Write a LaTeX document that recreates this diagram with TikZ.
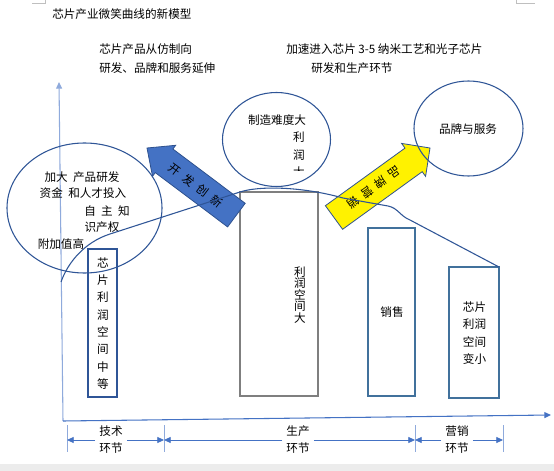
\documentclass[tikz,border=0pt]{standalone}
\usepackage{fontspec}
\setmainfont{Noto Sans CJK SC}
\usetikzlibrary{arrows.meta,shapes.geometric}

\definecolor{curveblue}{HTML}{2F5597}
\definecolor{axisblue}{HTML}{4472C4}
\definecolor{tickblue}{HTML}{8FAADC}
\definecolor{arrowedge}{HTML}{2F528F}
\definecolor{boxgrey}{HTML}{7F7F7F}
\definecolor{boxblue}{HTML}{41719C}
\newcommand{\chargap}{\hspace{4.5pt}}

\begin{document}
\begin{tikzpicture}[x=0.75pt, y=-0.75pt, >={Triangle[length=5pt,width=4.5pt]},
    every node/.style={font=\fontsize{8.7}{10.5}\selectfont, inner sep=0pt},
    oval/.style={ellipse, draw=curveblue, line width=0.8pt},
    bar/.style={rectangle, draw, line width=0.8pt},
    bigarrow/.style={draw=arrowedge, line width=0.6pt},
    linktext/.style={align=center, font=\fontsize{8.7}{12.75}\selectfont, inner sep=3pt},
    dim/.style={->, axisblue, line width=0.6pt}]
    \useasboundingbox (0,0) rectangle (554,471);
    \fill[white] (0,0) rectangle (554,471);
    \fill[gray!15] (0,464) rectangle (554,471);
    \draw[gray!50, line width=0.5pt] (32,3) -- (45,3) -- (45,0);
    \draw[gray!50, line width=0.5pt] (516,0) -- (516,3) -- (535,3);

    \node[anchor=west] (title) at (52,14) {芯片产业微笑曲线的新模型};
    \node[anchor=west] (shift1) at (99,49) {芯片产品从仿制向};
    \node[anchor=west] (shift2) at (99,68) {研发、品牌和服务延伸};
    \node[anchor=west] (speed1) at (286,49) {加速进入芯片 3-5 纳米工艺和光子芯片};
    \node[anchor=west] (speed2) at (311,68) {研发和生产环节};

    % axes
    \coordinate (origin) at (63,421);
    \coordinate (ytop) at (59,82);
    \coordinate (xright) at (551,415);
    \draw[->, axisblue!60, line width=0.8pt] (origin) -- (ytop);
    \draw[->, axisblue, line width=0.8pt] (origin) -- (xright);

    % profit bars
    \node[bar, draw=curveblue, line width=1.1pt, minimum width=21.75pt, minimum height=111pt] (techbar) at (102.5,323) {};
    \node[bar, draw=boxgrey, minimum width=58.5pt, minimum height=153pt] (prodbar) at (279,294) {};
    \node[bar, draw=boxblue, minimum width=35.25pt, minimum height=126pt] (salebar) at (391.5,312) {};
    \node[bar, draw=boxblue, line width=1pt, minimum width=37.5pt, minimum height=98.25pt] (mktbar) at (474,332.5) {};
    \node[align=center, font=\fontsize{8.7}{13}\selectfont] (techtext) at (103,323.5) {芯\\片\\利\\润\\空\\间\\中\\等};
    \node[align=center, font=\fontsize{8.7}{8.6}\selectfont] (prodtext) at (300,295) {利\\润\\空\\间\\大};
    \node (saletext) at (392,312) {销售};
    \node[align=left, font=\fontsize{8.7}{13}\selectfont] (mkttext) at (474.5,333) {芯片\\利润\\空间\\变小};

    % big arrows
    \filldraw[bigarrow, fill=axisblue] (147,148) -- (175.7,145.3) -- (172.9,149.0) -- (245.2,203.3)
        -- (227.6,226.9) -- (155.3,172.6) -- (152.5,176.3) -- cycle;
    \node[rotate=-36.8] (devtext) at (195.5,185.5) {开\chargap 发\chargap 创\chargap 新};
    \filldraw[bigarrow, fill=yellow] (430,148) -- (401.6,143.4) -- (405.0,148.1) -- (325.4,205.7)
        -- (342.6,229.3) -- (422.2,171.7) -- (425.6,176.4) -- cycle;
    \node[rotate=215.9] (brandtext) at (374,187.5) {品\hspace{4pt}牌\hspace{4pt}营\hspace{4pt}销};

    % ovals
    \node[oval, minimum width=116.25pt, minimum height=97.5pt] (rdoval) at (84.5,208) {};
    \node[oval, minimum width=81pt, minimum height=70.5pt] (mfgoval) at (276.5,139.5) {};
    \node[oval, minimum width=81.75pt, minimum height=71.25pt] (brandoval) at (468.5,128.5) {};
    \node (rd1) at (82,177) {加大\hspace{4pt}产品研发};
    \node (rd2) at (83,193) {资金\hspace{4pt}和人才投入};
    \node (rd3) at (107,211) {自\hspace{4pt}主\hspace{4pt}知};
    \node (rd4) at (102,227) {识产权};
    \node (rd5) at (61,244) {附加值高};
    \node (mfg1) at (277,120) {制造难度大};
    \node (mfg2) at (299,137) {利};
    \node (mfg3) at (299,155) {润};
    \begin{scope}
        \clip (290,160) rectangle (310,170);
        \node (mfg4) at (299,172) {大};
    \end{scope}
    \node (service) at (468,129) {品牌与服务};

    % value chain links
    \foreach \name/\x in {ta/67, tb/164, tc/415, td/503} {
        \coordinate (\name) at (\x,440);
        \draw[tickblue, line width=0.6pt] (\name) ++(0,-15) -- ++(0,27);
    }
    \node[linktext] (techlink) at (111,440) {技术\\环节};
    \node[linktext] (prodlink) at (298,440) {生产\\环节};
    \node[linktext] (mktlink) at (457,440) {营销\\环节};
    \draw[dim] (techlink) -- (techlink -| ta);
    \draw[dim] (techlink) -- (techlink -| tb);
    \draw[dim] (prodlink) -- (prodlink -| tb);
    \draw[dim] (prodlink) -- (prodlink -| tc);
    \draw[dim] (mktlink) -- (mktlink -| tc);
    \draw[dim] (mktlink) -- (mktlink -| td);

    % smile curve
    \draw[curveblue, line width=0.8pt] (61,282) .. controls (68,262) and (85,242) .. (110,234)
        -- (240,192) .. controls (258,186) and (300,186) .. (343,198)
        -- (388,206) .. controls (398,208) and (400,216) .. (410,220) -- (499,267);
\end{tikzpicture}
\end{document}
